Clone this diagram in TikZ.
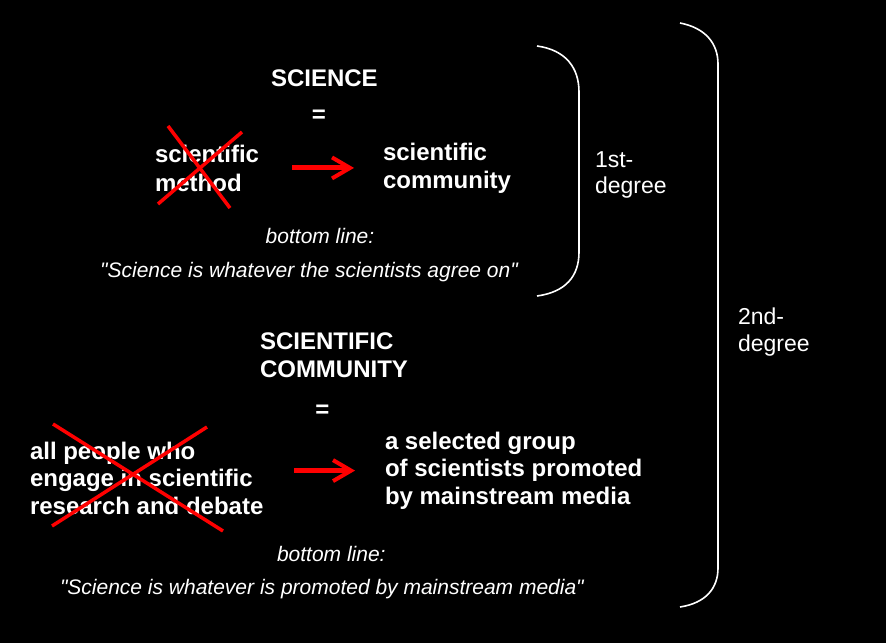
\documentclass[tikz,border=0pt]{standalone}
\usepackage{fontspec}
\newfontfamily\arialfont{Liberation Sans}
\usetikzlibrary{arrows.meta,calc}
\tikzset{
  txt/.style={text=white, inner sep=0pt, outer sep=0pt, align=left, anchor=base west},
  boldtxt/.style={txt, font=\arialfont\fontsize{24}{28}\selectfont\bfseries},
  itxt/.style={txt, font=\arialfont\fontsize{21}{25}\selectfont\itshape},
  regtxt/.style={txt, font=\arialfont\fontsize{23}{27}\selectfont},
  redarrow/.style={draw=red, line width=5pt, -{Straight Barb[length=18pt, width=21pt, line width=4pt]}},
  crossline/.style={draw=red, line width=3.5pt},
  bracket/.style={draw=white, line width=1.6pt}
}
\begin{document}
\begin{tikzpicture}[x=1pt,y=-1pt]
\fill[black] (0,0) rectangle (886,643);
\useasboundingbox (0,0) rectangle (886,643);

% first block (anchor = baseline of last line)
\node[boldtxt] (science) at (271,86) {SCIENCE};
\node[boldtxt, anchor=center] (eq1) at (319,116) {=};
\node[boldtxt, font=\arialfont\fontsize{24}{29}\selectfont\bfseries] (sm) at (155,191) {scientific\\method};
\node[boldtxt] (sc) at (383,188) {scientific\\community};
\draw[crossline] (168,126) -- (230,208);
\draw[crossline] (242,132) -- (158,204);
\draw[redarrow, shorten <=33pt, shorten >=29pt] (sm.east) -- (sm.east -| sc.west);
\node[itxt, anchor=base] (bl1) at (320,243) {bottom line:};
\node[itxt, anchor=base] (q1) at (309,277) {"Science is whatever the scientists agree on"};

% second block
\node[boldtxt] (scicomm) at (260,377) {SCIENTIFIC\\COMMUNITY};
\node[boldtxt, anchor=center] (eq2) at (322.5,411) {=};
\node[boldtxt, font=\arialfont\fontsize{24}{27.5}\selectfont\bfseries] (allp) at (30,514) {all people who\\engage in scientific\\research and debate};
\node[boldtxt, font=\arialfont\fontsize{24}{27.7}\selectfont\bfseries] (sel) at (385,504.5) {a selected group\\of scientists promoted\\by mainstream media};
\draw[crossline] (53,424) -- (223,531);
\draw[crossline] (207,427) -- (52,526);
\draw[redarrow, shorten <=31pt, shorten >=30pt] (allp.east |- sel.west) -- (sel.west);
\node[itxt] (bl2) at (277,561) {bottom line:};
\node[itxt] (q2) at (60,594) {"Science is whatever is promoted by mainstream media"};

% brackets
\draw[bracket] (537,46) .. controls (566,50) and (579,68) .. (579,92) -- (579,252) .. controls (579,276) and (566,292) .. (537,296);
\node[regtxt, font=\arialfont\fontsize{23}{26}\selectfont] (deg1) at (595,193) {1st-\\degree};
\draw[bracket] (680,23) .. controls (706,28) and (718,44) .. (718,64) -- (718,568) .. controls (718,588) and (706,603) .. (680,607);
\node[regtxt, font=\arialfont\fontsize{23}{27.5}\selectfont] (deg2) at (738,351.5) {2nd-\\degree};
\end{tikzpicture}
\end{document}
